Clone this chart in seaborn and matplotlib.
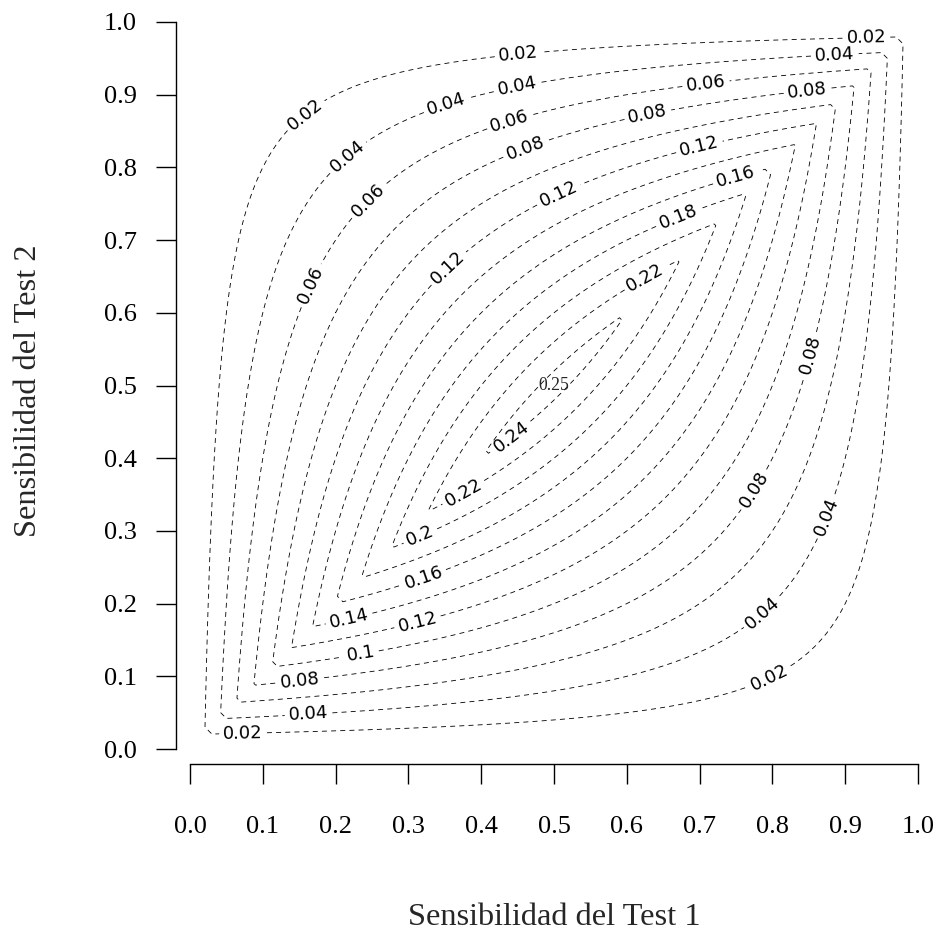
import numpy as np
import matplotlib
matplotlib.use("Agg")
import matplotlib.pyplot as plt
import seaborn as sns

# grid of sensitivities for both tests
sens1 = np.linspace(0, 1, 101)
sens2 = np.linspace(0, 1, 101)

# contour levels drawn in the figure
levels = [0.02, 0.04, 0.06, 0.08, 0.10, 0.12, 0.14, 0.16, 0.18, 0.20, 0.22, 0.24]

ticks = [0.0, 0.1, 0.2, 0.3, 0.4, 0.5, 0.6, 0.7, 0.8, 0.9, 1.0]
tick_labels = ["0.0", "0.1", "0.2", "0.3", "0.4", "0.5", "0.6", "0.7", "0.8", "0.9", "1.0"]

# contour labels as they appear in the picture (level, x, y)
label_level = [0.02, 0.02, 0.02, 0.02, 0.02,
               0.04, 0.04, 0.04, 0.04, 0.04, 0.04, 0.04,
               0.06, 0.06, 0.06, 0.06,
               0.08, 0.08, 0.08, 0.08, 0.08, 0.08,
               0.10, 0.12, 0.12, 0.12, 0.12,
               0.14, 0.16, 0.16, 0.18, 0.20, 0.22, 0.22, 0.24]
label_x = [0.451, 0.162, 0.929, 0.073, 0.800,
           0.886, 0.352, 0.449, 0.220, 0.163, 0.859, 0.787,
           0.440, 0.709, 0.258, 0.165,
           0.848, 0.629, 0.463, 0.152, 0.852, 0.776,
           0.235, 0.700, 0.501, 0.361, 0.313,
           0.217, 0.751, 0.321, 0.673, 0.316, 0.629, 0.376, 0.442]
label_y = [0.959, 0.868, 0.979, 0.017, 0.091,
           0.950, 0.887, 0.913, 0.810, 0.045, 0.326, 0.187,
           0.861, 0.913, 0.741, 0.638,
           0.906, 0.872, 0.820, 0.092, 0.542, 0.356,
           0.129, 0.827, 0.774, 0.655, 0.173,
           0.186, 0.783, 0.235, 0.725, 0.294, 0.642, 0.352, 0.430]
center_value = "0.25"

S1, S2 = np.meshgrid(sens1, sens2)
# maximum covariance between two binary tests
cov_max = np.minimum(S1, S2) - S1 * S2

sns.set_style("ticks")
plt.rcParams["font.family"] = ["DejaVu Sans"]
plt.rcParams["lines.scale_dashes"] = False
plt.rcParams["axes.edgecolor"] = "black"
plt.rcParams["xtick.color"] = "black"
plt.rcParams["ytick.color"] = "black"

fig = plt.figure(figsize=(9.36, 9.33), dpi=100)
ax = fig.add_axes([190 / 936, 1 - 749 / 933, 728 / 936, 727 / 933])

for lv in levels:
    cs = ax.contour(S1, S2, cov_max, levels=[lv], colors="black",
                    linewidths=0.6, linestyles=[(0, (3.6, 3.0))])
    pts = [(x, y) for l, x, y in zip(label_level, label_x, label_y)
           if abs(l - lv) < 1e-9]
    if pts:
        txts = ax.clabel(cs, manual=pts, inline=True, inline_spacing=4,
                         fontsize=13, colors="black",
                         fmt=lambda v: f"{v:g}")
        for t in txts:
            t.set_fontfamily("DejaVu Sans")

ax.text(0.5, 0.5, center_value, ha="center", va="center",
        fontsize=12.7, family="Liberation Serif")

ax.set_xlim(0, 1)
ax.set_ylim(0, 1)
ax.set_xticks(ticks)
ax.set_yticks(ticks)
sns.despine(ax=ax, offset={"left": 10.1, "bottom": 10.8}, trim=True)

ax.set_xticks(ticks)
ax.set_yticks(ticks)
ax.set_xticklabels(tick_labels, fontsize=19, family="Liberation Serif")
ax.set_yticklabels(tick_labels, fontsize=19, family="Liberation Serif")
ax.tick_params(axis="x", length=14.4, width=1.0, pad=23)
ax.tick_params(axis="y", length=14.4, width=1.0, pad=13.7)
for sp in ax.spines.values():
    sp.set_linewidth(1.0)

fig.text(554 / 936, 1 - 925 / 933, "Sensibilidad del Test 1", ha="center",
         va="baseline", fontsize=23.3, family="Liberation Serif")
fig.text(36 / 936, 1 - 391 / 933, "Sensibilidad del Test 2", ha="center",
         va="baseline", rotation=90, rotation_mode="anchor", fontsize=23.3,
         family="Liberation Serif")

fig.savefig("out.png", dpi=100)
plt.close(fig)
